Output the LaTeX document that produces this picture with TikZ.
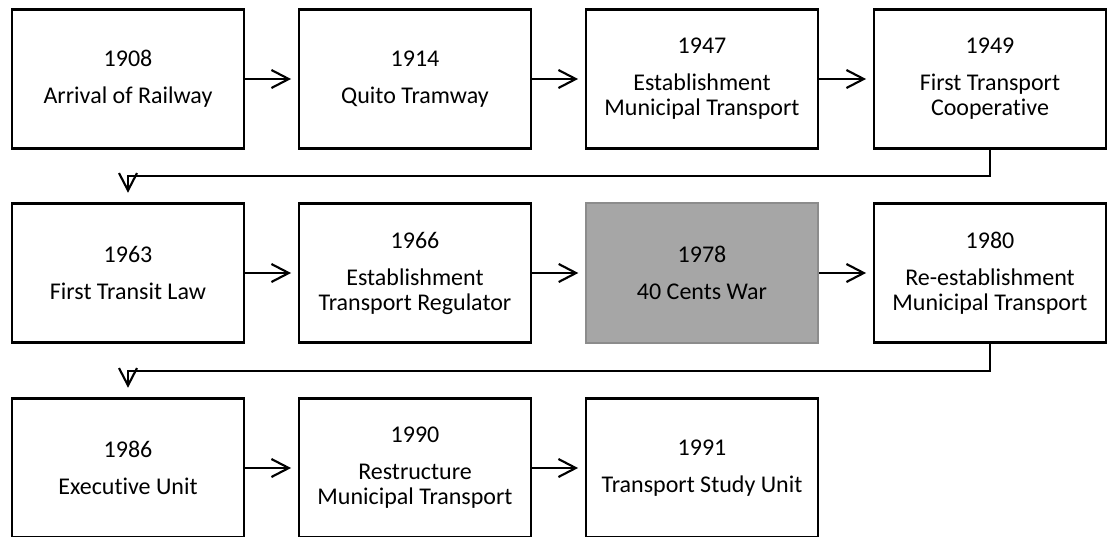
\documentclass[tikz,border=0pt]{standalone}
\usepackage{fontspec}
\setmainfont{Carlito}[Ligatures=NoCommon]
\usetikzlibrary{arrows.meta}
% a zero kern keeps t and i apart (no "ti" ligature)
\newcommand\tkern{t\kern0pt }
\begin{document}
\begin{tikzpicture}[x=0.75pt,y=-0.75pt,
  box/.style={draw=black, line width=1.9pt, fill=white, minimum width=174pt,
    minimum height=104.5pt, inner sep=0pt, align=center,
    font=\fontsize{18pt}{18.75pt}\selectfont},
  hot/.style={box, draw=black!45, line width=1.5pt, fill=black!35},
  arr/.style={line width=1.6pt, -{Straight Barb[length=13pt,width=13.5pt,line width=1.6pt]},
    shorten >=5pt}]
\useasboundingbox (0,0) rectangle (1107,536);
% row 1
\node[box] (n1) at (128,79) {1908\\[9pt]Arrival of Railway};
\node[box] (n2) at (415,79) {1914\\[9pt]Quito Tramway};
\node[box] (n3) at (702,79) {1947\\[9pt]Establishment\\Municipal Transport};
\node[box] (n4) at (990,79) {1949\\[9pt]First Transport\\Coopera\tkern ive};
% row 2
\node[box] (n5) at (128,273) {1963\\[9pt]First Transit Law};
\node[box] (n6) at (415,273) {1966\\[9pt]Establishment\\Transport Regulator};
\node[hot] (n7) at (702,273) {1978\\[9pt]40 Cents War};
\node[box] (n8) at (990,273) {1980\\[9pt]Re-establishment\\Municipal Transport};
% row 3
\node[box] (n9) at (128,468) {1986\\[9pt]Execu\tkern ive Unit};
\node[box] (n10) at (415,468) {1990\\[9pt]Restructure\\Municipal Transport};
\node[box] (n11) at (702,468) {1991\\[9pt]Transport Study Unit};
% connectors
\draw[arr] (n1.east) -- (n2.west);
\draw[arr] (n2.east) -- (n3.west);
\draw[arr] (n3.east) -- (n4.west);
\draw[arr, shorten >=7pt] (n4.south) -- ++(0,26) -| (n5.north);
\draw[arr] (n5.east) -- (n6.west);
\draw[arr] (n6.east) -- (n7.west);
\draw[arr] (n7.east) -- (n8.west);
\draw[arr, shorten >=7pt] (n8.south) -- ++(0,27) -| (n9.north);
\draw[arr] (n9.east) -- (n10.west);
\draw[arr] (n10.east) -- (n11.west);
\end{tikzpicture}
\end{document}
